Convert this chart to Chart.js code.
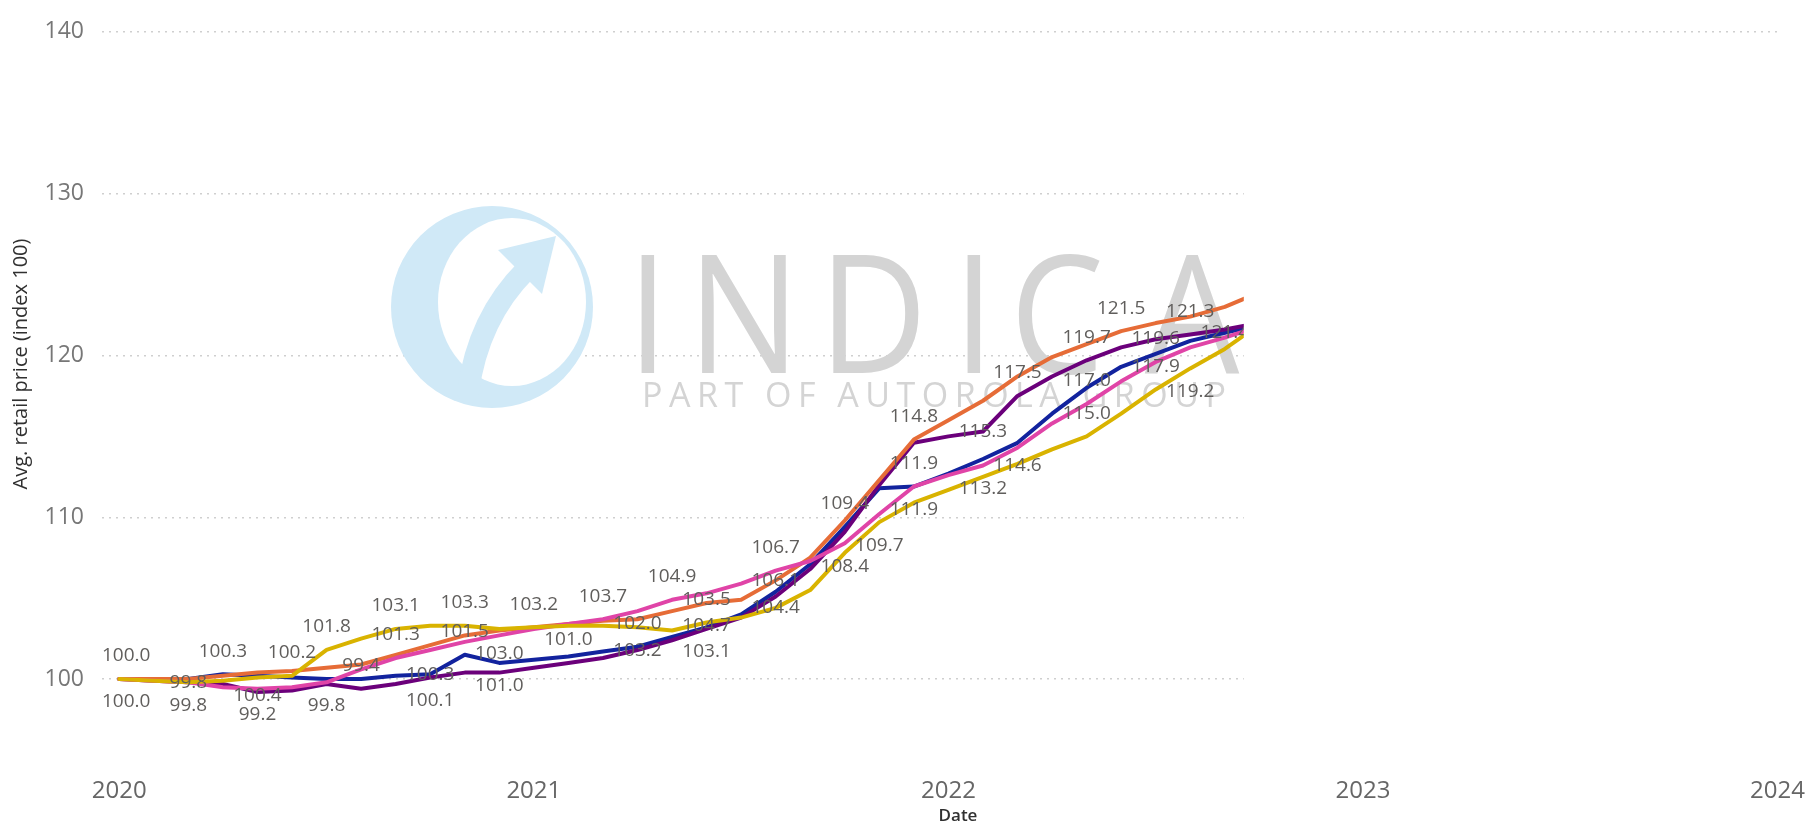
<!DOCTYPE html>
<html lang="en">
<head>
<meta charset="utf-8">
<title>Avg. retail price (index 100)</title>
<script src="https://cdn.jsdelivr.net/npm/chart.js@4.4.1/dist/chart.umd.min.js"></script>
<style>
  html, body { margin: 0; padding: 0; background: #ffffff; overflow: hidden; }
  canvas { display: block; }
</style>
</head>
<body>
<canvas id="priceChart" width="1814" height="827"></canvas>
<script>
// month index, 0 = Jan 2020
const months = [0, 1, 2, 3, 4, 5, 6, 7, 8, 9, 10, 11, 12, 13, 14, 15, 16,
  17, 18, 19, 20, 21, 22, 23, 24, 25, 26, 27, 28, 29, 30, 31, 32, 33];
// the source picture is blanked out from mid Sep 2022 onwards
const lastVisibleMonth = 32.55;

const yearTicks = [0, 12, 24, 36, 48];
const yearLabels = ['2020', '2021', '2022', '2023', '2024'];
const priceTicks = [100, 110, 120, 130, 140];
const xTitle = 'Date';
const yTitle = 'Avg. retail price (index 100)';

const yellowValues = [100.0, 99.9, 99.8, 99.9, 100.1, 100.2, 101.8, 102.5, 103.1, 103.3, 103.3, 103.1,
  103.2, 103.3, 103.3, 103.2, 103.0, 103.5, 103.8, 104.4, 105.5, 107.8, 109.7, 110.9,
  111.7, 112.5, 113.3, 114.2, 115.0, 116.4, 117.9, 119.2, 120.4, 121.9];
const pinkValues = [100.0, 99.9, 99.8, 99.5, 99.4, 99.5, 99.8, 100.6, 101.3, 101.8, 102.3, 102.7,
  103.1, 103.4, 103.7, 104.2, 104.9, 105.3, 105.9, 106.7, 107.3, 108.4, 110.2, 111.9,
  112.6, 113.2, 114.3, 115.8, 117.0, 118.4, 119.6, 120.5, 121.1, 121.8];
const orangeValues = [100.0, 100.0, 100.0, 100.2, 100.4, 100.5, 100.7, 100.9, 101.5, 102.1, 102.7, 103.0,
  103.2, 103.4, 103.6, 103.7, 104.2, 104.7, 104.9, 106.1, 107.5, 109.8, 112.3, 114.8,
  116.0, 117.2, 118.7, 119.9, 120.7, 121.5, 122.0, 122.4, 123.0, 123.9];
const purpleValues = [100.0, 99.9, 99.8, 99.7, 99.2, 99.3, 99.7, 99.4, 99.7, 100.1, 100.4, 100.4,
  100.7, 101.0, 101.3, 101.8, 102.4, 103.1, 103.8, 105.1, 106.8, 109.1, 112.0, 114.6,
  115.0, 115.3, 117.5, 118.7, 119.7, 120.5, 121.0, 121.3, 121.6, 122.0];
const blueValues = [100.0, 100.0, 100.0, 100.3, 100.2, 100.1, 100.0, 100.0, 100.2, 100.3, 101.5, 101.0,
  101.2, 101.4, 101.7, 102.0, 102.6, 103.2, 104.0, 105.4, 107.1, 109.4, 111.8, 111.9,
  112.7, 113.6, 114.6, 116.4, 118.0, 119.3, 120.1, 120.9, 121.4, 121.9];

// which points carry a data label, and where the label sits
const yellowLabels = [[2, 'center'], [5, 'above'], [6, 'above'], [8, 'above'], [10, 'above'], [12, 'above'],
  [15, 'below'], [17, 'above'], [19, 'center'], [22, 'below'], [28, 'above'], [30, 'above'], [31, 'below']];
const pinkLabels = [[2, 'below'], [6, 'below'], [8, 'above'], [14, 'above'], [16, 'above'], [19, 'above'],
  [21, 'below'], [23, 'below'], [25, 'below'], [28, 'above'], [30, 'above']];
const orangeLabels = [[0, 'above'], [4, 'below'], [11, 'below'], [17, 'below'], [19, 'center'],
  [23, 'above'], [29, 'above']];
const purpleLabels = [[0, 'below'], [4, 'below'], [7, 'above'], [9, 'below'], [13, 'above'], [17, 'below'],
  [25, 'center'], [26, 'above'], [28, 'above'], [31, 'above']];
const blueLabels = [[3, 'above'], [9, 'center'], [10, 'above'], [11, 'below'], [15, 'above'], [21, 'above'],
  [23, 'above'], [26, 'below'], [32, 'center']];

const LABEL_OFFSET = { above: -23, below: 23, center: 0 };
const FONT = '"Segoe UI", "Open Sans", sans-serif';

function makeSet(name, color, values, labelsAt) {
  return {
    label: name,
    data: months.map((m, i) => ({ x: m, y: values[i] })),
    borderColor: color,
    backgroundColor: color,
    pointLabels: labelsAt
  };
}

// first dataset is painted last (on top)
const datasets = [
  makeSet('Yellow', '#D9B300', yellowValues, yellowLabels),
  makeSet('Pink', '#E044A7', pinkValues, pinkLabels),
  makeSet('Orange', '#E66C37', orangeValues, orangeLabels),
  makeSet('Purple', '#6B007B', purpleValues, purpleLabels),
  makeSet('Blue', '#12239E', blueValues, blueLabels)
];

const watermark = {
  id: 'watermark',
  beforeDatasetsDraw(chart) {
    const ctx = chart.ctx;
    ctx.save();
    // logo disc
    ctx.fillStyle = '#d0e9f7';
    ctx.beginPath();
    ctx.arc(492, 307, 101, 0, Math.PI * 2);
    ctx.fill();
    ctx.fillStyle = '#ffffff';
    ctx.beginPath();
    ctx.ellipse(512, 302, 74, 84, 0, 0, Math.PI * 2);
    ctx.fill();
    ctx.strokeStyle = '#d0e9f7';
    ctx.lineWidth = 22;
    ctx.lineCap = 'round';
    ctx.beginPath();
    ctx.moveTo(468, 392);
    ctx.quadraticCurveTo(478, 318, 526, 270);
    ctx.stroke();
    ctx.fillStyle = '#d0e9f7';
    ctx.beginPath();
    ctx.moveTo(556, 236);
    ctx.lineTo(498, 250);
    ctx.lineTo(542, 294);
    ctx.closePath();
    ctx.fill();

    // big letters: cap height ~121px, N about 84px wide
    ctx.fillStyle = '#d4d4d4';
    ctx.textAlign = 'center';
    ctx.textBaseline = 'alphabetic';
    ctx.font = '100px "Open Sans", sans-serif';
    const capBox = ctx.measureText('I');
    const size = 100 * 121 / capBox.actualBoundingBoxAscent;
    ctx.font = size.toFixed(1) + 'px "Open Sans", sans-serif';
    const nBox = ctx.measureText('N');
    const sx = 84 / (nBox.actualBoundingBoxLeft + nBox.actualBoundingBoxRight);
    [['I', 648], ['N', 744], ['D', 873], ['I', 974], ['C', 1057], ['A', 1192], ['T', 1310], ['A', 1430]]
      .forEach(([ch, x]) => {
        ctx.save();
        ctx.translate(x, 373);
        ctx.scale(sx, 1);
        ctx.fillText(ch, 0, 0);
        ctx.restore();
      });

    // tag line spread over ~584px
    const tag = 'PART OF AUTOROLA GROUP';
    ctx.font = '34px "Open Sans", sans-serif';
    ctx.textAlign = 'left';
    const plain = ctx.measureText(tag).width;
    ctx.letterSpacing = ((584 - plain) / (tag.length - 1)).toFixed(2) + 'px';
    ctx.fillText(tag, 642, 407);
    ctx.letterSpacing = '0px';
    ctx.restore();
  }
};

const pointLabels = {
  id: 'pointLabels',
  afterDatasetsDraw(chart) {
    const { ctx, chartArea, scales } = chart;
    ctx.save();
    ctx.font = '19px ' + FONT;
    ctx.fillStyle = '#605e5c';
    ctx.textAlign = 'center';
    ctx.textBaseline = 'middle';
    chart.data.datasets.forEach((ds, di) => {
      const meta = chart.getDatasetMeta(di);
      ds.pointLabels.forEach(([i, pos]) => {
        const el = meta.data[i];
        const text = ds.data[i].y.toFixed(1);
        const half = ctx.measureText(text).width / 2;
        const x = Math.max(el.x, chartArea.left + half);
        ctx.fillText(text, x, el.y + LABEL_OFFSET[pos]);
      });
    });
    // blank the plot to the right of the cut, as in the source picture
    const left = scales.x.getPixelForValue(lastVisibleMonth);
    const top = scales.y.getPixelForValue(139.5);
    ctx.fillStyle = '#ffffff';
    ctx.fillRect(left, top, chart.width - left, chartArea.bottom + 2 - top);
    ctx.restore();
  }
};

// axis titles, placed like the source (y title sits a bit above the plot centre)
const axisTitles = {
  id: 'axisTitles',
  afterDraw(chart) {
    const { ctx, chartArea } = chart;
    ctx.save();
    ctx.fillStyle = '#303030';
    ctx.textAlign = 'center';
    ctx.textBaseline = 'middle';
    ctx.font = '20px ' + FONT;
    ctx.translate(21, 364);
    ctx.rotate(-Math.PI / 2);
    ctx.fillText(yTitle, 0, 0);
    ctx.setTransform(1, 0, 0, 1, 0, 0);
    ctx.font = '600 17px ' + FONT;
    ctx.fillText(xTitle, chartArea.left + 856, 816);
    ctx.restore();
  }
};

new Chart(document.getElementById('priceChart'), {
  type: 'line',
  data: { datasets },
  options: {
    responsive: false,
    animation: false,
    devicePixelRatio: 1,
    layout: { padding: { top: 25, right: 31, bottom: 0, left: 0 } },
    plugins: {
      legend: { display: false },
      tooltip: { enabled: false }
    },
    elements: {
      point: { radius: 0 },
      line: { borderWidth: 4, tension: 0, borderCapStyle: 'round', borderJoinStyle: 'round' }
    },
    scales: {
      x: {
        type: 'linear',
        min: -0.5,
        max: 48,
        afterBuildTicks: (s) => { s.ticks = yearTicks.map((v) => ({ value: v })); },
        afterFit: (s) => { s.height = 67; },
        ticks: {
          callback: (v) => yearLabels[yearTicks.indexOf(v)],
          color: '#666666',
          font: { family: FONT, size: 24 },
          padding: 9,
          maxRotation: 0,
          autoSkip: false
        },
        grid: { display: false },
        border: { display: false }
      },
      y: {
        min: 95,
        max: 140,
        afterBuildTicks: (s) => { s.ticks = priceTicks.map((v) => ({ value: v })); },
        afterFit: (s) => { s.width = 102; },
        ticks: {
          color: '#777777',
          font: { family: FONT, size: 23 },
          padding: 18
        },
        grid: { color: '#cfcfcf', lineWidth: 1.5, drawTicks: false },
        border: { display: false, dash: [2, 5] }
      }
    }
  },
  plugins: [watermark, pointLabels, axisTitles]
});
</script>
</body>
</html>
